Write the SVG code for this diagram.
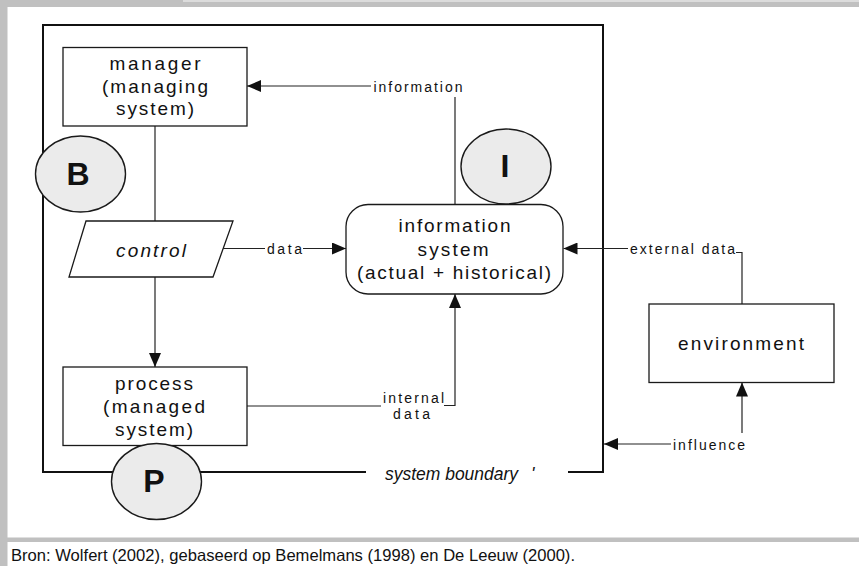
<svg xmlns="http://www.w3.org/2000/svg" width="859" height="566" viewBox="0 0 859 566">
<style>
.box{fill:#fff;stroke:#1a1a1a;stroke-width:1.3}
.oval{fill:#ebebeb;stroke:#1a1a1a;stroke-width:1.4}
.conn{fill:none;stroke:#222;stroke-width:1.2}
.bnd{fill:none;stroke:#111;stroke-width:2}
.nt{font-family:"Liberation Sans",Arial,sans-serif;font-size:19px;fill:#111;text-anchor:middle}
.lt{font-family:"Liberation Sans",Arial,sans-serif;font-size:14px;fill:#111}
.big{font-family:"Liberation Sans",Arial,sans-serif;font-size:32px;font-weight:bold;fill:#111;text-anchor:middle}
.it{font-style:italic}
</style>
<defs>
<marker id="ah" viewBox="0 0 14 12" refX="14" refY="6" markerWidth="14" markerHeight="12" markerUnits="userSpaceOnUse" orient="auto">
<path d="M0,0 L14,6 L0,12 z" fill="#111"/>
</marker>
</defs>
<rect width="859" height="566" fill="#fff"/>
<g id="frame">
<rect x="0" y="0" width="183" height="7" fill="#c0c0c0"/>
<rect x="183" y="0" width="676" height="2" fill="#dcdcdc"/>
<rect x="183" y="2" width="676" height="5" fill="#c0c0c0"/>
<rect x="0" y="0" width="7.5" height="566" fill="#c0c0c0"/>
<rect x="0" y="537.5" width="859" height="4.5" fill="#c0c0c0"/>
</g>
<g id="boundary">
<path class="bnd" d="M366,472 H43 V25 H603 V472 H568"/>
<text class="lt it" x="385" y="480" textLength="133" lengthAdjust="spacingAndGlyphs" style="font-size:18px">system boundary</text>
<text class="lt it" x="531" y="480" style="font-size:18px">'</text>
</g>
<g id="connectors">
<path class="conn" d="M455,204 V97"/>
<path class="conn" d="M371,86 H247" marker-end="url(#ah)"/>
<text class="lt" x="373.5" y="91.5" textLength="89" lengthAdjust="spacing">information</text>
<path class="conn" d="M155,126 V221"/>
<path class="conn" d="M155,277 V367" marker-end="url(#ah)"/>
<path class="conn" d="M223,248.5 H265"/>
<text class="lt" x="267" y="253.5" textLength="35" lengthAdjust="spacing">data</text>
<path class="conn" d="M303,248.5 H346" marker-end="url(#ah)"/>
<path class="conn" d="M247,406 H381"/>
<text class="lt" x="383" y="402.5" textLength="61" lengthAdjust="spacing">internal</text>
<text class="lt" x="393" y="419" textLength="37" lengthAdjust="spacing">data</text>
<path class="conn" d="M444,405.5 H455 V294" marker-end="url(#ah)"/>
<path class="conn" d="M742,304 V252.5 H736"/>
<text class="lt" x="630" y="254" textLength="105" lengthAdjust="spacing">external data</text>
<path class="conn" d="M628,248.5 H563.5" marker-end="url(#ah)"/>
<path class="conn" d="M742,433 V382.5" marker-end="url(#ah)"/>
<text class="lt" x="673" y="449.5" textLength="72" lengthAdjust="spacing">influence</text>
<path class="conn" d="M671,444 H604" marker-end="url(#ah)"/>
</g>
<g id="manager">
<rect class="box" x="63" y="47.5" width="184" height="78.5"/>
<text class="nt" x="155" y="69.5" textLength="91" lengthAdjust="spacing">manager</text>
<text class="nt" x="155" y="92.5" textLength="106" lengthAdjust="spacing">(managing</text>
<text class="nt" x="155" y="115" textLength="78" lengthAdjust="spacing">system)</text>
</g>
<g id="control">
<polygon class="box" points="86,221 233,221 213,277 69,277"/>
<text class="nt it" x="151" y="256.5" textLength="70" lengthAdjust="spacing">control</text>
</g>
<g id="process">
<rect class="box" x="63" y="367" width="184" height="78.5"/>
<text class="nt" x="154" y="389.5" textLength="78" lengthAdjust="spacing">process</text>
<text class="nt" x="154" y="412.5" textLength="102" lengthAdjust="spacing">(managed</text>
<text class="nt" x="154" y="435.5" textLength="78" lengthAdjust="spacing">system)</text>
</g>
<g id="information-system">
<rect class="box" x="346" y="204.5" width="217" height="89.5" rx="22" ry="22"/>
<text class="nt" x="454.5" y="232" textLength="112" lengthAdjust="spacing">information</text>
<text class="nt" x="453" y="255.5" textLength="71" lengthAdjust="spacing">system</text>
<text class="nt" x="454" y="278.5" textLength="194" lengthAdjust="spacing">(actual + historical)</text>
</g>
<g id="environment">
<rect class="box" x="649" y="304" width="185" height="78.5"/>
<text class="nt" x="741" y="349.5" textLength="126" lengthAdjust="spacing">environment</text>
</g>
<g id="B">
<ellipse class="oval" cx="80.5" cy="174" rx="45" ry="38"/>
<text class="big" x="78" y="185">B</text>
</g>
<g id="I">
<ellipse class="oval" cx="506" cy="166.5" rx="45" ry="37.5"/>
<text class="big" x="505" y="177">I</text>
</g>
<g id="P">
<ellipse class="oval" cx="156.5" cy="481.5" rx="45" ry="38"/>
<text class="big" x="154" y="491.5">P</text>
</g>
<g id="caption">
<text x="11" y="561" style="font-family:'Liberation Sans Narrow','Liberation Sans',Arial,sans-serif;font-size:16.5px;fill:#111" textLength="564" lengthAdjust="spacingAndGlyphs">Bron: Wolfert (2002), gebaseerd op Bemelmans (1998) en De Leeuw (2000).</text>
</g>
</svg>
